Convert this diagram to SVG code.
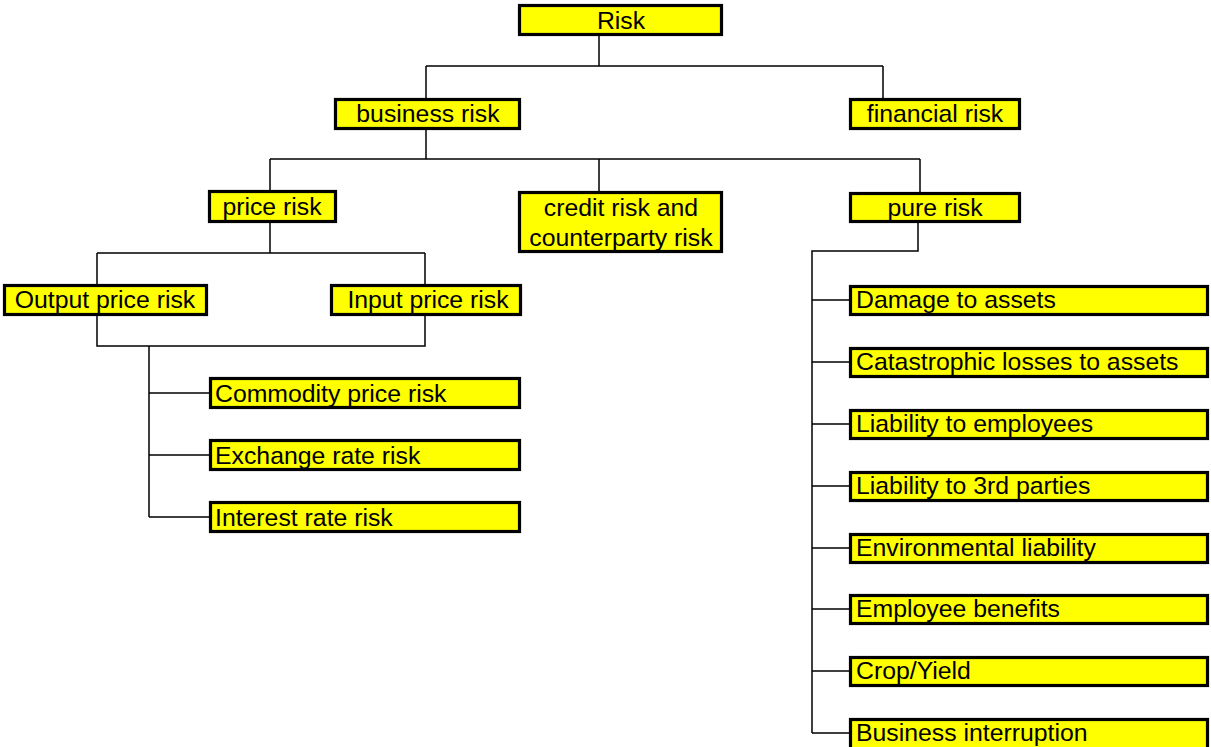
<svg xmlns="http://www.w3.org/2000/svg" width="1211" height="747" viewBox="0 0 1211 747">
<style>
.box{fill:#ffff00;stroke:#000;stroke-width:3.2}
.t{font-family:"Liberation Sans",Arial,sans-serif;font-size:24.8px;fill:#000}
.c{text-anchor:middle}
.conn{fill:none;stroke:#000;stroke-width:1.5}
</style>
<rect width="1211" height="747" fill="#fff"/>
<g id="connectors" class="conn">
<path d="M599,36 V66 M426,66 H883 M426,66 V98 M883,66 V98"/>
<path d="M426,130 V159 M270,159 H920 M270,159 V190 M599,159 V191 M920,159 V192"/>
<path d="M270,223 V253 M97,253 H425 M97,253 V284 M425,253 V284"/>
<path d="M97,316 V346 H425 V316 M149,346 V517 M149,393 H209 M149,455 H209 M149,517 H209"/>
<path d="M918,223 V251 H812 V733 M812,300 H849 M812,362 H849 M812,424 H849 M812,486 H849 M812,548 H849 M812,609 H849 M812,671 H849 M812,733 H849"/>
</g>
<g id="risk"><rect class="box" x="519.5" y="5.5" width="202" height="29"/><text class="t c" x="621" y="29">Risk</text></g>
<g id="business-risk"><rect class="box" x="335.5" y="99.5" width="184" height="29"/><text class="t c" x="428" y="122">business risk</text></g>
<g id="financial-risk"><rect class="box" x="850.5" y="99.5" width="169" height="29"/><text class="t c" x="935" y="122">financial risk</text></g>
<g id="price-risk"><rect class="box" x="209.5" y="191.5" width="126" height="30"/><text class="t c" x="272" y="215">price risk</text></g>
<g id="credit-risk"><rect class="box" x="519.5" y="192.5" width="202" height="59"/><text class="t c" x="621" y="216">credit risk and</text><text class="t c" x="621" y="246">counterparty risk</text></g>
<g id="pure-risk"><rect class="box" x="850.5" y="193.5" width="169" height="28"/><text class="t c" x="935" y="216">pure risk</text></g>
<g id="output-price-risk"><rect class="box" x="4.5" y="285.5" width="202" height="29"/><text class="t c" x="105" y="308">Output price risk</text></g>
<g id="input-price-risk"><rect class="box" x="331.5" y="285.5" width="189" height="29"/><text class="t c" x="428" y="308">Input price risk</text></g>
<g id="commodity-price-risk"><rect class="box" x="210.5" y="378.5" width="309" height="29"/><text class="t" x="215" y="402">Commodity price risk</text></g>
<g id="exchange-rate-risk"><rect class="box" x="210.5" y="440.5" width="309" height="29"/><text class="t" x="215" y="464">Exchange rate risk</text></g>
<g id="interest-rate-risk"><rect class="box" x="210.5" y="502.5" width="309" height="29"/><text class="t" x="215" y="526">Interest rate risk</text></g>
<g id="damage-to-assets"><rect class="box" x="850.5" y="286.5" width="357" height="28"/><text class="t" x="856" y="308">Damage to assets</text></g>
<g id="catastrophic-losses"><rect class="box" x="850.5" y="348.5" width="357" height="28"/><text class="t" x="856" y="370">Catastrophic losses to assets</text></g>
<g id="liability-employees"><rect class="box" x="850.5" y="410.5" width="357" height="28"/><text class="t" x="856" y="432">Liability to employees</text></g>
<g id="liability-3rd-parties"><rect class="box" x="850.5" y="472.5" width="357" height="28"/><text class="t" x="856" y="494">Liability to 3rd parties</text></g>
<g id="environmental-liability"><rect class="box" x="850.5" y="534.5" width="357" height="28"/><text class="t" x="856" y="556">Environmental liability</text></g>
<g id="employee-benefits"><rect class="box" x="850.5" y="595.5" width="357" height="28"/><text class="t" x="856" y="617">Employee benefits</text></g>
<g id="crop-yield"><rect class="box" x="850.5" y="657.5" width="357" height="28"/><text class="t" x="856" y="679">Crop/Yield</text></g>
<g id="business-interruption"><rect class="box" x="850.5" y="719.5" width="357" height="30"/><text class="t" x="856" y="741">Business interruption</text></g>
</svg>
